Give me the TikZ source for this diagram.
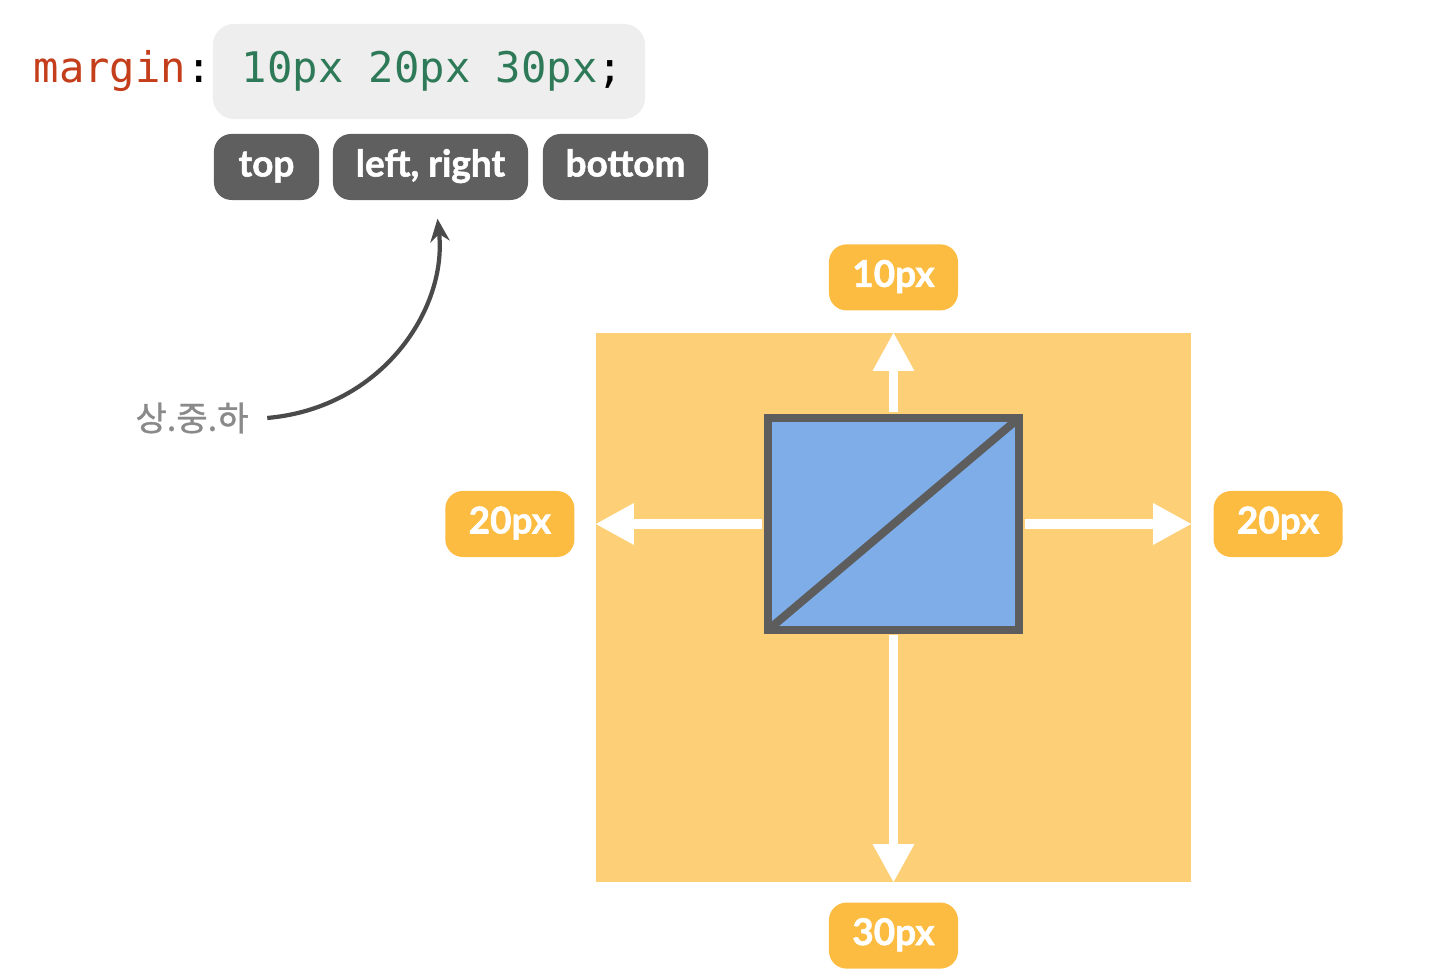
\documentclass[tikz,border=0pt]{standalone}
\usepackage{fontspec}
\usepackage{xcolor}
\usetikzlibrary{arrows.meta,positioning,calc}
\setmainfont{Lato}[BoldFeatures={FakeBold=1.5}]
\newfontfamily\codefont{DejaVu Sans Mono}
\newfontfamily\krfont{Noto Sans CJK KR}[FakeBold=1]
\definecolor{codered}{RGB}{196,62,28}
\definecolor{codegreen}{RGB}{46,122,88}
\definecolor{codebg}{RGB}{238,238,238}
\definecolor{btngray}{RGB}{95,95,95}
\definecolor{marginorange}{RGB}{253,208,120}
\definecolor{labelorange}{RGB}{252,188,66}
\definecolor{boxblue}{RGB}{126,173,232}
\definecolor{boxgray}{RGB}{93,93,93}
\definecolor{krgray}{RGB}{138,138,138}

\tikzset{
  btn/.style={fill=btngray,rounded corners=5pt,text=white,font=\bfseries\fontsize{10.5}{12}\selectfont,
    minimum height=0.66cm,inner sep=0pt,text height=7.6pt,text depth=2.2pt},
  lbl/.style={fill=labelorange,rounded corners=5pt,text=white,font=\bfseries\fontsize{10.5}{12}\selectfont,
    minimum width=1.29cm,minimum height=0.66cm,inner sep=0pt,text height=7.6pt,text depth=2.2pt},
  spread/.style={draw=white,line width=2.8pt,-{Triangle[length=11pt,width=11pt]},shorten <=0.4pt}
}

\begin{document}
\begin{tikzpicture}[x=0.01cm,y=-0.01cm]
\useasboundingbox (0,0) rectangle (1450,974);
% css line
\node[fill=codebg,rounded corners=6pt,minimum width=4.32cm,minimum height=0.95cm,inner sep=0pt,
  font=\codefont\fontsize{12}{14}\selectfont] (code) at (429,71.5)
  {\hspace{0.07cm}\textcolor{codegreen}{10px 20px 30px};};
\node[left=0cm of code,inner sep=0pt,font=\codefont\fontsize{12}{14}\selectfont] (prop)
  {\textcolor{codered}{margin}:};
% value names
\node[btn,minimum width=1.05cm] (top) at (266.5,167) {top};
\node[btn,minimum width=1.95cm] (lr) at (430.5,167) {left, right};
\node[btn,minimum width=1.65cm] (bot) at (625.5,167) {bottom};
% note
\node[text=krgray,font=\krfont\fontsize{9.7}{11}\selectfont,inner sep=0pt] (kor) at (192,418) {상.중.하};
\draw[boxgray!80!black,line width=1.2pt,-{Stealth[length=6.5pt,width=5.5pt]}]
  ([xshift=0.18cm]kor.east) .. controls +(115,-10) and +(10,90) .. ([xshift=0.07cm,yshift=-0.18cm]lr.south);
% margin area
\node[fill=marginorange,minimum width=5.95cm,minimum height=5.49cm,inner sep=0pt] (area) at (893.5,607.5) {};
\node[fill=boxblue,draw=boxgray,line width=2.3pt,minimum width=2.51cm,minimum height=2.12cm,inner sep=0pt]
  (box) at (893.5,524) {};
\draw[boxgray,line width=2.3pt] ([shift={(1.1pt,1.1pt)}]box.south west) -- ([shift={(-1.1pt,-1.1pt)}]box.north east);
\coordinate (aw) at (box.west -| area.west);
\coordinate (ae) at (box.east -| area.east);
\draw[spread] (box.north) -- (area.north);
\draw[spread] (box.south) -- (area.south);
\draw[spread] (box.west) -- (aw);
\draw[spread] (box.east) -- (ae);
% margin values
\node[lbl,above=0.21cm of area] (mtop) {10px};
\node[lbl,below=0.19cm of area] (mbot) {30px};
\node[lbl,left=0.2cm of aw] (mleft) {20px};
\node[lbl,right=0.21cm of ae] (mright) {20px};
\end{tikzpicture}
\end{document}
